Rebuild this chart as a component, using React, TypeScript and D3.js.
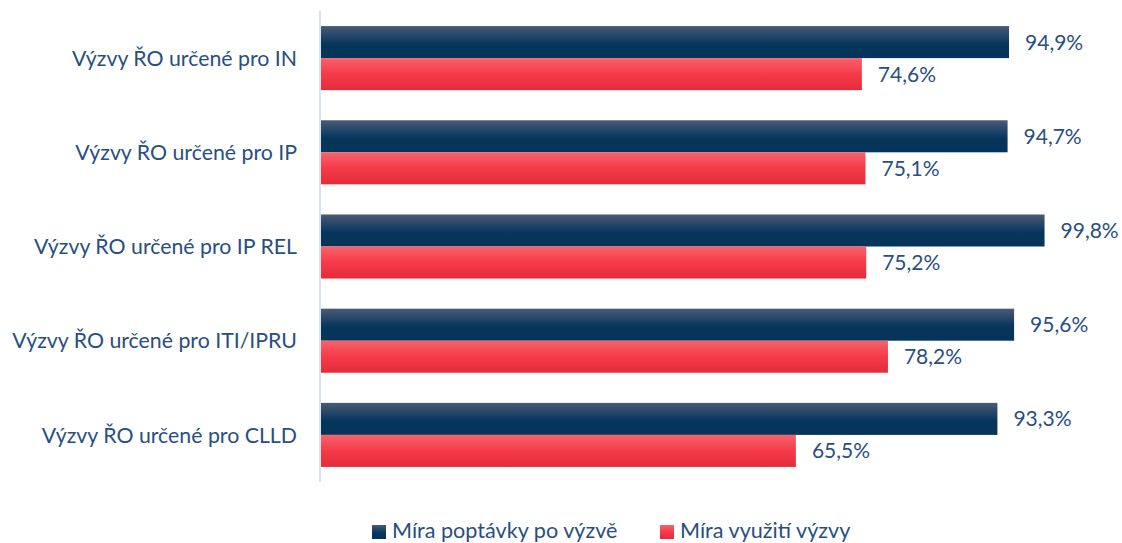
import React, { useEffect, useRef } from 'react';
import * as d3 from 'd3';

// ————— Data —————
const categories = [
  'Výzvy ŘO určené pro IN',
  'Výzvy ŘO určené pro IP',
  'Výzvy ŘO určené pro IP REL',
  'Výzvy ŘO určené pro ITI/IPRU',
  'Výzvy ŘO určené pro CLLD',
];
const demandRate = [94.9, 94.7, 99.8, 95.6, 93.3];
const usageRate = [74.6, 75.1, 75.2, 78.2, 65.5];
const seriesNames = ['Míra poptávky po výzvě', 'Míra využití výzvy'];
// ————————————————

const W = 1122;
const H = 543;
const FONT = 'Lato, "Open Sans", sans-serif';
const TEXT = '#294E82';

export default function App() {
  const ref = useRef<SVGSVGElement>(null);

  useEffect(() => {
    const svg = d3.select(ref.current);
    svg.selectAll('*').remove();
    svg.attr('viewBox', `0 0 ${W} ${H}`);

    const defs = svg.append('defs');
    const gDark = defs.append('linearGradient').attr('id', 'gDark')
      .attr('x1', 0).attr('y1', 0).attr('x2', 0).attr('y2', 1);
    gDark.append('stop').attr('offset', '0%').attr('stop-color', '#4a5b76');
    gDark.append('stop').attr('offset', '55%').attr('stop-color', '#07365d');
    gDark.append('stop').attr('offset', '100%').attr('stop-color', '#05345b');
    const gRed = defs.append('linearGradient').attr('id', 'gRed')
      .attr('x1', 0).attr('y1', 0).attr('x2', 0).attr('y2', 1);
    gRed.append('stop').attr('offset', '0%').attr('stop-color', '#f7636d');
    gRed.append('stop').attr('offset', '50%').attr('stop-color', '#f53a48');
    gRed.append('stop').attr('offset', '100%').attr('stop-color', '#e52b3a');

    const left = 321;
    const top = 11;
    const bottom = 482;

    const x = d3.scaleLinear().domain([0, 100]).range([left, left + 725]);
    const y0 = d3.scaleBand().domain(categories).range([top, bottom]).paddingInner(0.32).paddingOuter(0.16);
    const y1 = d3.scaleBand().domain(['d', 'u']).range([0, y0.bandwidth()]);

    // axis line
    svg.append('line')
      .attr('x1', left - 1).attr('x2', left - 1)
      .attr('y1', top).attr('y2', bottom)
      .attr('stroke', '#d6e3f3').attr('stroke-width', 2);

    categories.forEach((c, i) => {
      const by = y0(c)!;
      const rows = [
        { key: 'd', v: demandRate[i], fill: 'url(#gDark)' },
        { key: 'u', v: usageRate[i], fill: 'url(#gRed)' },
      ];
      rows.forEach(r => {
        const yy = by + y1(r.key)!;
        svg.append('rect')
          .attr('x', x(0)).attr('y', yy)
          .attr('width', x(r.v) - x(0)).attr('height', y1.bandwidth())
          .attr('fill', r.fill);
        svg.append('text')
          .attr('x', x(r.v) + 16).attr('y', yy + y1.bandwidth() / 2)
          .attr('dy', '0.36em')
          .attr('font-family', FONT).attr('font-size', 21)
          .attr('fill', TEXT)
          .text(d3.format('.1f')(r.v).replace('.', ',') + '%');
      });
      svg.append('text')
        .attr('x', 297).attr('y', by + y0.bandwidth() / 2)
        .attr('dy', '0.36em')
        .attr('text-anchor', 'end')
        .attr('font-family', FONT).attr('font-size', 21.3)
        .attr('fill', TEXT)
        .text(c);
    });

    // legend
    const legend = [
      { name: seriesNames[0], fill: 'url(#gDark)', x: 372 },
      { name: seriesNames[1], fill: 'url(#gRed)', x: 660 },
    ];
    legend.forEach(l => {
      svg.append('rect')
        .attr('x', l.x).attr('y', 525).attr('width', 14).attr('height', 14)
        .attr('fill', l.fill);
      svg.append('text')
        .attr('x', l.x + 20).attr('y', 538)
        .attr('font-family', FONT).attr('font-size', 21.6)
        .attr('fill', TEXT)
        .text(l.name);
    });
  }, []);

  return (
    <svg ref={ref} width={W} height={H}
      style={{ position: 'absolute', left: 0, top: 0, background: '#fff' }} />
  );
}
